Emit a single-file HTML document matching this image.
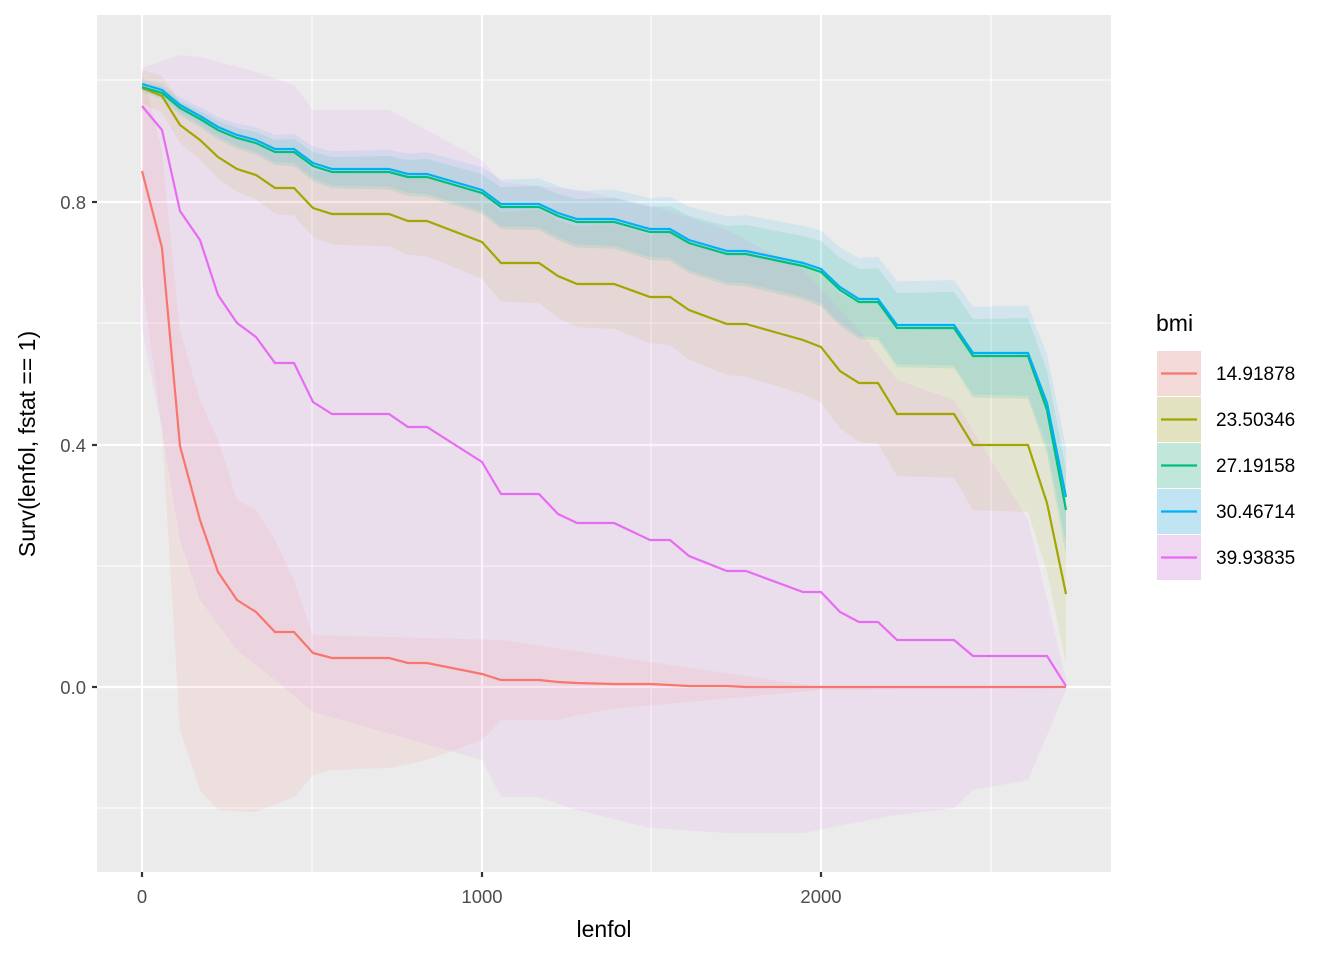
<!DOCTYPE html>
<html><head><meta charset="utf-8"><style>body{margin:0;background:#fff}svg{display:block}text{font-family:"Liberation Sans",sans-serif}</style></head>
<body>
<svg id="s" width="1344" height="960" xmlns="http://www.w3.org/2000/svg">
<rect x="97" y="15" width="1014" height="857" fill="#EBEBEB"/>
<g stroke="#fff" stroke-width="1.1">
<line x1="97" x2="1111" y1="80" y2="80"/><line x1="97" x2="1111" y1="323" y2="323"/><line x1="97" x2="1111" y1="566" y2="566"/><line x1="97" x2="1111" y1="808" y2="808"/>
<line y1="15" y2="872" x1="312" x2="312"/><line y1="15" y2="872" x1="651" x2="651"/><line y1="15" y2="872" x1="991" x2="991"/>
</g>
<g stroke="#fff" stroke-width="2.2">
<line x1="97" x2="1111" y1="202" y2="202"/><line x1="97" x2="1111" y1="445" y2="445"/><line x1="97" x2="1111" y1="687" y2="687"/>
<line y1="15" y2="872" x1="142" x2="142"/><line y1="15" y2="872" x1="482" x2="482"/><line y1="15" y2="872" x1="821" x2="821"/>
</g>
<g id="data"></g>
<g font-size="18.5" fill="#4D4D4D" text-anchor="end">
<text x="86" y="209">0.8</text><text x="86" y="452">0.4</text><text x="86" y="694">0.0</text></g>
<g stroke="#333" stroke-width="2.2"><line x1="92" x2="97" y1="202" y2="202"/><line x1="92" x2="97" y1="445" y2="445"/><line x1="92" x2="97" y1="687" y2="687"/>
<line x1="142" x2="142" y1="872" y2="877"/><line x1="482" x2="482" y1="872" y2="877"/><line x1="821" x2="821" y1="872" y2="877"/></g>
<g font-size="18.5" fill="#4D4D4D" text-anchor="middle"><text x="142" y="903">0</text><text x="482" y="903">1000</text><text x="821" y="903">2000</text></g>
<text x="604" y="937" font-size="23" text-anchor="middle">lenfol</text>
<text transform="translate(35,444) rotate(-90)" font-size="23" text-anchor="middle">Surv(lenfol, fstat == 1)</text>
<text x="1156" y="331" font-size="23">bmi</text>
<g id="leg"></g>
</svg>
<script>
const X=[142,162,180,200,218,237,256,275,294,313,332,389,408,427,482,501,539,558,577,614,650,670,689,727,746,803,821,840,859,878,897,954,973,1028,1047,1066];
const R=[171,248,446,520,572,600,612,632,632,653,658,658,663,663,674,680,680,682,683,684,684,685,686,686,687,687,687,687,687,687,687,687,687,687,687,687];
const M=[106,130,211,240,295,323,337,363,363,402,414,414,427,427,462,494,494,514,523,523,540,540,556,571,571,592,592,612,622,622,640,640,656,656,656,686];
const O=[88,96,125,140,157,169,175,188,188,208,214,214,221,221,242,263,263,276,284,284,297,297,310,324,324,340,347,371,383,383,414,414,445,445,503,594];
const G=[87,93,108,119,130,138,143,152,152,166,172,172,177,177,193,207,207,216,222,222,232,232,243,254,254,266,272,290,302,302,328,328,356,356,410,510];
const B=G.map((v,i)=>v-3-(i>33?(i==35?10:4):0));
function band(up,lo,col,op){let s='M';for(let i=0;i<X.length;i++)s+=X[i]+','+up[i]+' L';for(let i=X.length-1;i>=0;i--)s+=X[i]+','+lo[i]+(i?' L':'');return `<path d="${s}Z" fill="${col}" fill-opacity="${op}"/>`;}
function line(ys,col){return `<polyline points="${X.map((x,i)=>x+','+ys[i]).join(' ')}" fill="none" stroke="${col}" stroke-width="2.2"/>`;}
function interp(pts){return X.map(x=>{for(let i=0;i<pts.length-1;i++){if(x<=pts[i+1][0]){let t=(x-pts[i][0])/(pts[i+1][0]-pts[i][0]);return pts[i][1]+t*(pts[i+1][1]-pts[i][1]);}}return pts[pts.length-1][1];});}
const rU=interp([[142,70],[162,150],[180,330],[200,400],[218,440],[237,500],[256,510],[275,540],[294,580],[313,635],[501,640],[821,687],[1066,687]]);
const rL=interp([[142,280],[162,430],[180,730],[200,790],[218,810],[256,812],[294,797],[313,775],[332,770],[389,768],[427,760],[482,740],[501,720],[558,720],[600,710],[821,690],[1066,688]]);
const mU=interp([[142,68],[180,55],[200,57],[256,72],[294,85],[313,110],[389,110],[408,120],[482,160],[501,182],[577,190],[650,205],[727,230],[803,270],[859,330],[897,380],[954,400],[1028,520],[1066,680]]);
const mL=interp([[142,330],[162,430],[180,540],[200,600],[237,650],[275,680],[313,712],[482,760],[501,797],[539,797],[577,810],[650,828],[727,833],[803,833],[859,822],[897,815],[954,808],[973,790],[1028,780],[1066,690]]);
const w=(i,a,b)=>a+(b-a)*i/35;
const oU=O.map((v,i)=>v-w(i,18,95)),oL=O.map((v,i)=>v+w(i,15,70));
const gU=G.map((v,i)=>v-w(i,5,40)),gL=G.map((v,i)=>v+w(i,5,45));
const bU=B.map((v,i)=>v-w(i,5,50)),bL=B.map((v,i)=>v+w(i,5,45));
let h='';
h+=band(rU,rL,'#F8766D',0.1)+band(oU,oL,'#A3A500',0.1)+band(gU,gL,'#00BF7D',0.12)+band(bU,bL,'#00B0F6',0.1)+band(mU,mL,'#E76BF3',0.1);
h+=line(R,'#F8766D')+line(O,'#A3A500')+line(G,'#00BF7D')+line(B,'#00B0F6')+line(M,'#E76BF3');
document.getElementById('data').innerHTML=h;
const cols=['#F8766D','#A3A500','#00BF7D','#00B0F6','#E76BF3'],labs=['14.91878','23.50346','27.19158','30.46714','39.93835'];
let l='';cols.forEach((c,i)=>{let y=351+i*46;l+=`<rect x="1157" y="${y}" width="44" height="45" fill="#F2F2F2"/><rect x="1157" y="${y}" width="44" height="45" fill="${c}" fill-opacity="0.2"/><line x1="1161" x2="1197" y1="${y+22.5}" y2="${y+22.5}" stroke="${c}" stroke-width="2.2"/><text x="1216" y="${y+29}" font-size="19" fill="#000">${labs[i]}</text>`;});
document.getElementById('leg').innerHTML=l;
</script>
</body></html>
